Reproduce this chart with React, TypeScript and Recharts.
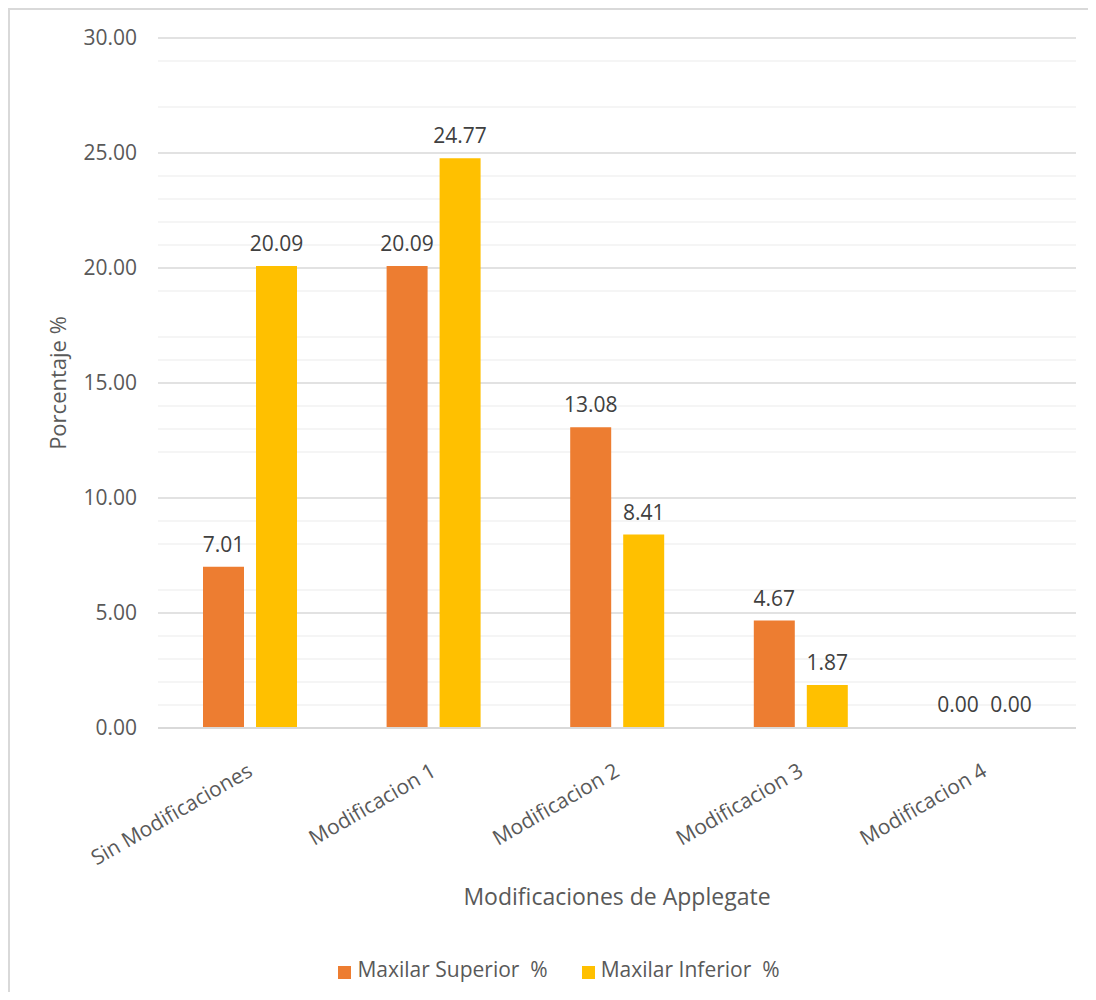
import React from 'react'
import { BarChart, Bar, XAxis, YAxis, Legend, LabelList, CartesianGrid } from 'recharts'

const categories = [
  'Sin Modificaciones',
  'Modificacion 1',
  'Modificacion 2',
  'Modificacion 3',
  'Modificacion 4',
]
const superior = [7.01, 20.09, 13.08, 4.67, 0.0]
const inferior = [20.09, 24.77, 8.41, 1.87, 0.0]
const yTicks = [0, 5, 10, 15, 20, 25, 30]
const minorTicks = [
  1, 2, 3, 4, 6, 7, 8, 9, 11, 12, 13, 14, 16, 17, 18, 19, 21, 22, 23, 24, 26, 27, 28, 29,
]

const FONT = '"Open Sans", "Noto Sans", sans-serif'
const AXIS_GRAY = '#595959'
const LABEL_GRAY = '#404040'

const data = categories.map((name, i) => ({
  name,
  sup: superior[i],
  inf: inferior[i],
}))

const seriesOrder: Record<string, number> = { sup: 0, inf: 1 }

function CategoryTick(props: any) {
  const { x, y, payload } = props
  return (
    <text
      transform={`translate(${x + 4},${y + 39}) rotate(-30)`}
      textAnchor="end"
      fill={AXIS_GRAY}
      fontSize={21}
      fontFamily={FONT}
    >
      {payload.value}
    </text>
  )
}

function YTitle(props: any) {
  const { viewBox } = props
  const cx = viewBox.x + 56
  const cy = viewBox.y + viewBox.height / 2
  return (
    <text
      transform={`translate(${cx},${cy}) rotate(-90)`}
      textAnchor="middle"
      fill={AXIS_GRAY}
      fontSize={22}
      fontFamily={FONT}
    >
      Porcentaje %
    </text>
  )
}

export default function App() {
  return (
    <div
      style={{
        width: 1088,
        height: 992,
        marginBottom: -8,
        boxSizing: 'border-box',
        borderTop: '2px solid #d9d9d9',
        borderLeft: '2px solid #d9d9d9',
        background: '#fff',
        fontFamily: FONT,
      }}
    >
      <BarChart
        width={1086}
        height={990}
        data={data}
        margin={{ top: 28, right: 20, bottom: 17, left: 0 }}
        barGap={12}
        barSize={41}
      >
        {/* minor grid every 1.0, major every 5.0 */}
        <CartesianGrid vertical={false} horizontalValues={minorTicks} stroke="#f2f2f2" strokeWidth={1.5} />
        <CartesianGrid vertical={false} stroke="#d9d9d9" strokeWidth={1.5} />
        <XAxis
          dataKey="name"
          height={227}
          tickLine={false}
          axisLine={{ stroke: '#d9d9d9', strokeWidth: 2 }}
          tick={<CategoryTick />}
          interval={0}
          label={{
            value: 'Modificaciones de Applegate',
            position: 'insideBottom',
            offset: 50,
            fill: AXIS_GRAY,
            fontSize: 23,
            fontFamily: FONT,
          }}
        />
        <YAxis
          width={148}
          domain={[0, 30]}
          ticks={yTicks}
          tickLine={false}
          axisLine={false}
          tickMargin={15}
          tickFormatter={(v: number) => v.toFixed(2)}
          tick={{ fill: AXIS_GRAY, fontSize: 21, fontFamily: FONT }}
          label={<YTitle />}
        />
        <Legend
          verticalAlign="bottom"
          iconType="square"
          iconSize={13}
          itemSorter={(item: any) => seriesOrder[item.dataKey] ?? 0}
          wrapperStyle={{ left: 33 }}
          formatter={(value: string) => (
            <span
              style={{
                color: AXIS_GRAY,
                fontSize: 21,
                fontFamily: FONT,
                whiteSpace: 'pre',
                marginLeft: 2,
                marginRight: 24,
              }}
            >
              {value}
            </span>
          )}
        />
        <Bar
          dataKey="sup"
          name="Maxilar Superior  %"
          fill="#ED7D31"
          minPointSize={1}
          isAnimationActive={false}
        >
          <LabelList
            dataKey="sup"
            position="top"
            offset={15}
            formatter={(v: number) => v.toFixed(2)}
            fill={LABEL_GRAY}
            fontSize={21}
            fontFamily={FONT}
          />
        </Bar>
        <Bar
          dataKey="inf"
          name="Maxilar Inferior  %"
          fill="#FFC000"
          minPointSize={1}
          isAnimationActive={false}
        >
          <LabelList
            dataKey="inf"
            position="top"
            offset={15}
            formatter={(v: number) => v.toFixed(2)}
            fill={LABEL_GRAY}
            fontSize={21}
            fontFamily={FONT}
          />
        </Bar>
      </BarChart>
    </div>
  )
}
